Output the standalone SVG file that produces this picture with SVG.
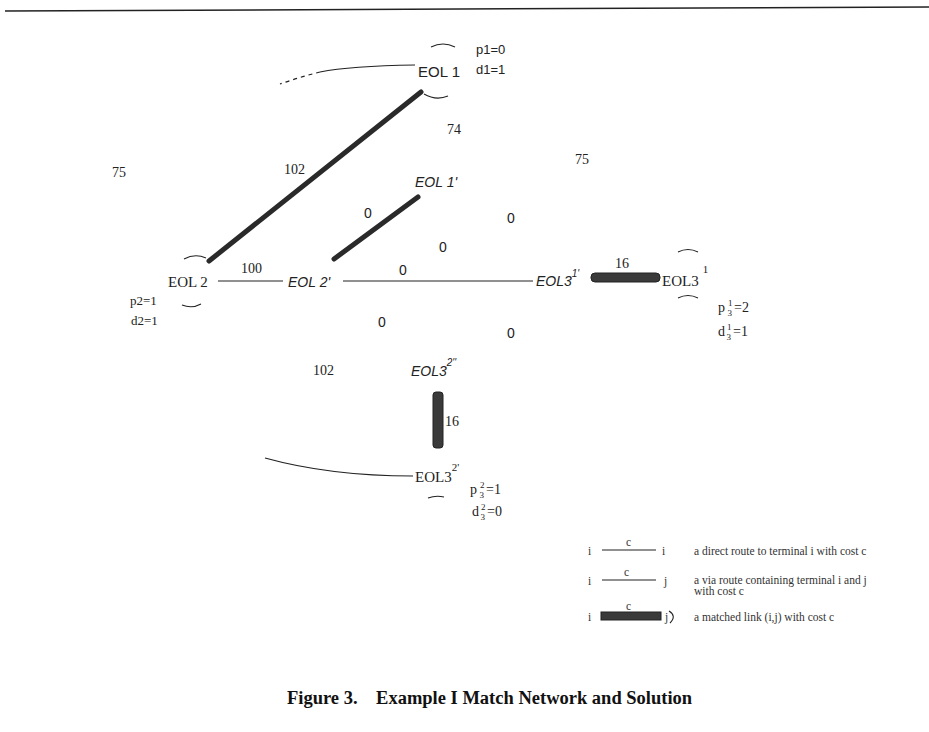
<svg xmlns="http://www.w3.org/2000/svg" width="929" height="732" viewBox="0 0 929 732">
<style>
.serif{font-family:"Liberation Serif","Times New Roman",serif;fill:#222}
.sans{font-family:"Liberation Sans",Arial,sans-serif;fill:#222}
.it{font-style:italic}
.lab{font-size:14px}
.num{font-size:14px}
.small{font-size:13px}
.thin{stroke:#222;stroke-width:1.2;fill:none}
.thick{stroke:#2a2a2a;stroke-width:5;stroke-linecap:round;fill:none}
.arc{stroke:#222;stroke-width:1.1;fill:none}
.bar{fill:#3a3a3a;stroke:#222;stroke-width:1}
.leg{font-family:"Liberation Serif","Times New Roman",serif;font-size:11.5px;fill:#333}
</style>
<rect width="929" height="732" fill="#fff"/>
<line x1="5" y1="11" x2="929" y2="7" stroke="#222" stroke-width="1.5"/>

<g id="connectors">
  <path class="thin" d="M415,65 Q350,66 320,72" />
  <path class="thin" d="M320,72 Q300,77 280,84" stroke-dasharray="4,4"/>
  <line class="thick" x1="421" y1="92" x2="209" y2="261"/>
  <line class="thick" x1="418" y1="197" x2="334" y2="259"/>
  <line class="thin" x1="218" y1="281" x2="283" y2="281"/>
  <line class="thin" x1="343" y1="281" x2="533" y2="281"/>
  <rect class="bar" x="591" y="273" width="69" height="9" rx="4"/>
  <rect class="bar" x="433" y="392" width="10" height="56" rx="3"/>
  <path class="thin" d="M265,458 Q330,476 413,476"/>
</g>

<g id="labels">
  <text class="serif num" x="447" y="134">74</text>
  <text class="serif num" x="112" y="177">75</text>
  <text class="serif num" x="575" y="164">75</text>
  <text class="serif num" x="284" y="174">102</text>
  <text class="sans num" x="364" y="218">0</text>
  <text class="sans num" x="507" y="223">0</text>
  <text class="sans num" x="439" y="252">0</text>
  <text class="sans num" x="399" y="275">0</text>
  <text class="serif num" x="241" y="273">100</text>
  <text class="serif num" x="615" y="268">16</text>
  <text class="sans num" x="378" y="327">0</text>
  <text class="sans num" x="507" y="338">0</text>
  <text class="serif num" x="313" y="375">102</text>
  <text class="serif num" x="445" y="426">16</text>
</g>

<g id="EOL1">
  <path class="arc" d="M431,47 Q443,41 455,47"/>
  <text class="sans" font-size="15" x="418" y="77">EOL 1</text>
  <path class="arc" d="M424,94 Q436,101 448,96"/>
  <text class="sans small" x="476" y="54">p1=0</text>
  <text class="sans small" x="476" y="74">d1=1</text>
</g>

<g id="EOL1p">
  <text class="sans it lab" x="415" y="187">EOL 1'</text>
</g>

<g id="EOL2">
  <path class="arc" d="M184,259 Q195,253 206,258"/>
  <text class="serif" font-size="15" x="168" y="287">EOL 2</text>
  <path class="arc" d="M182,305 Q192,309 201,304"/>
  <text class="serif small" x="130" y="305">p2=1</text>
  <text class="serif small" x="131" y="325">d2=1</text>
</g>

<g id="EOL2p">
  <text class="sans it lab" x="288" y="287">EOL 2'</text>
</g>

<g id="EOL31p">
  <text class="sans it lab" x="536" y="286">EOL3<tspan font-size="10" dy="-9">1'</tspan></text>
</g>

<g id="EOL31">
  <path class="arc" d="M678,252 Q688,247 698,252"/>
  <text class="serif" font-size="15" x="662" y="286">EOL3<tspan font-size="11" dx="4" dy="-13">1</tspan></text>
  <path class="arc" d="M678,298 Q688,293 698,298"/>
  <text class="serif" font-size="14" x="718" y="312">p<tspan font-size="9" dx="3" dy="-6">1</tspan><tspan font-size="9" dx="-5" dy="10">3</tspan><tspan dx="2" dy="-4">=2</tspan></text>
  <text class="serif" font-size="14" x="718" y="336">d<tspan font-size="9" dx="2" dy="-6">1</tspan><tspan font-size="9" dx="-5" dy="10">3</tspan><tspan dx="2" dy="-4">=1</tspan></text>
</g>

<g id="EOL32pp">
  <text class="sans it lab" x="411" y="376">EOL3<tspan font-size="10" dy="-10">2''</tspan></text>
</g>

<g id="EOL32p">
  <text class="serif" font-size="15" x="415" y="482">EOL3<tspan font-size="11" dy="-11">2'</tspan></text>
  <path class="arc" d="M428,498 Q436,495 444,497"/>
  <text class="serif" font-size="14" x="470" y="494">p<tspan font-size="9" dx="3" dy="-6">2</tspan><tspan font-size="9" dx="-5" dy="10">3</tspan><tspan dx="2" dy="-4">=1</tspan></text>
  <text class="serif" font-size="14" x="472" y="516">d<tspan font-size="9" dx="2" dy="-6">2</tspan><tspan font-size="9" dx="-5" dy="10">3</tspan><tspan dx="2" dy="-4">=0</tspan></text>
</g>

<g id="legend">
  <text class="leg" x="588" y="555">i</text>
  <line class="thin" x1="602" y1="550" x2="656" y2="550" stroke-width="1"/>
  <text class="leg" x="626" y="546">c</text>
  <text class="leg" x="662" y="555">i</text>
  <text class="leg" x="694" y="555">a direct route to terminal i with cost c</text>

  <text class="leg" x="588" y="585">i</text>
  <line class="thin" x1="602" y1="580" x2="656" y2="580" stroke-width="1"/>
  <text class="leg" x="624" y="576">c</text>
  <text class="leg" x="664" y="585">j</text>
  <text class="leg" x="694" y="584">a via route containing terminal i and j</text>
  <text class="leg" x="694" y="595">with cost c</text>

  <text class="leg" x="588" y="621">i</text>
  <rect class="bar" x="601" y="612" width="60" height="8"/>
  <text class="leg" x="626" y="610">c</text>
  <text class="leg" x="665" y="621">j</text>
  <path class="arc" d="M669,611 Q677,616 670,623"/>
  <text class="leg" x="694" y="621">a matched link (i,j) with cost c</text>
</g>

<text font-family="'Liberation Serif','Times New Roman',serif" font-weight="bold" font-size="18.5" fill="#111" x="287" y="704" xml:space="preserve">Figure 3.    Example I Match Network and Solution</text>
</svg>
